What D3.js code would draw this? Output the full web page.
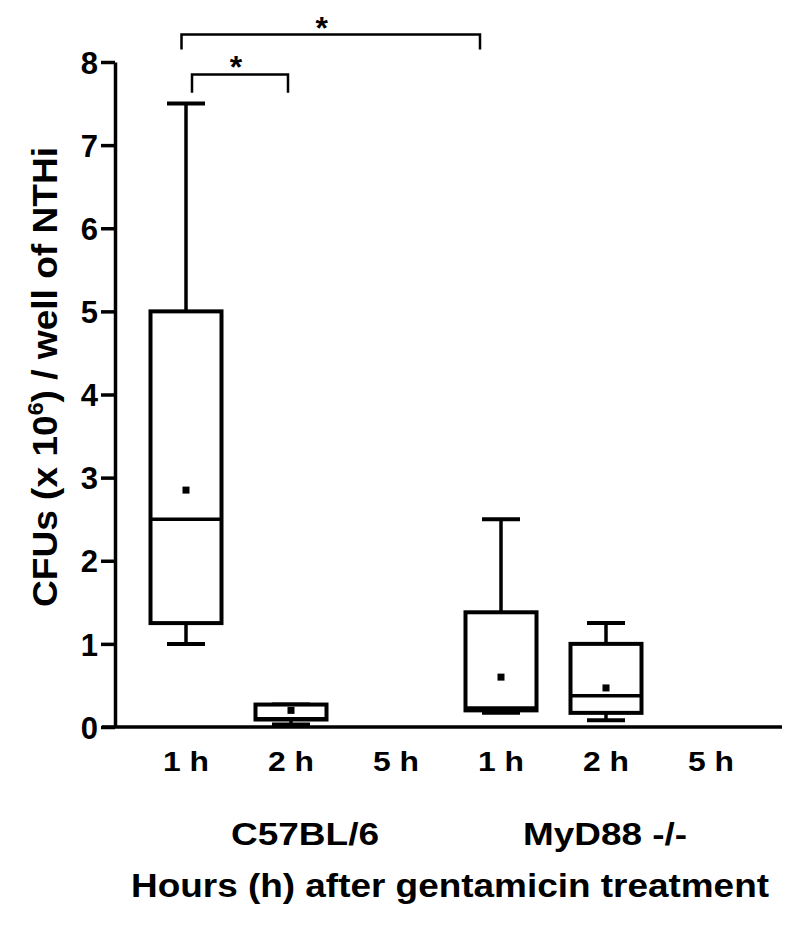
<!DOCTYPE html>
<html>
<head>
<meta charset="utf-8">
<script src="https://cdn.jsdelivr.net/npm/d3@7"></script>
<style>
  html, body { margin: 0; padding: 0; background: #fff; }
  svg { display: block; }
  text { font-family: "Liberation Sans", Arial, Helvetica, sans-serif; font-weight: bold; fill: #000; }
</style>
</head>
<body>
<svg id="chart" width="800" height="929"></svg>
<script>
// ---- data ----
const categories = ["C57-1h", "C57-2h", "C57-5h", "MyD-1h", "MyD-2h", "MyD-5h"];
const tickLabels = ["1 h", "2 h", "5 h", "1 h", "2 h", "5 h"];
const groupLabels = ["C57BL/6", "MyD88 -/-"];
const yTicks = [0, 1, 2, 3, 4, 5, 6, 7, 8];
// box-plot statistics (x 10^6 CFU); null = no data
const whiskerMin = [1.0, 0.03, null, 0.17, 0.08, null];
const quartile1  = [1.25, 0.09, null, 0.20, 0.17, null];
const medians    = [2.5, 0.10, null, 0.23, 0.375, null];
const quartile3  = [5.0, 0.27, null, 1.38, 1.0, null];
const whiskerMax = [7.5, 0.27, null, 2.5, 1.25, null];
const means      = [2.85, 0.20, null, 0.60, 0.47, null];
// significance brackets
const bracketFrom  = [0, 0];
const bracketTo    = [3, 1];
const bracketLevel = [8.33, 7.85];
const bracketFoot  = [8.15, 7.63];
const bracketMark  = ["*", "*"];

// ---- layout ----
const svg = d3.select("#chart");
const x = d3.scaleBand().domain(categories).range([133.5, 763.5]).padding(0);
const y = d3.scaleLinear().domain([0, 8]).range([727, 62]);
const cx = k => x(k) + x.bandwidth() / 2;
const boxW = 71, capW = 38;

// y axis
const yAxis = svg.append("g").attr("transform", "translate(115,0)")
  .call(d3.axisLeft(y).tickValues(yTicks).tickFormat(d3.format("d")).tickSize(14).tickSizeOuter(0).tickPadding(3));
yAxis.attr("font-size", null).attr("font-family", null);
yAxis.select(".domain").attr("stroke", "#000").attr("stroke-width", 3.5);
yAxis.selectAll(".tick line").attr("stroke", "#000").attr("stroke-width", 3.5);
yAxis.selectAll(".tick text").style("font-size", "31px").style("font-weight", "bold")
  .attr("fill", "#000").attr("dy", "0.36em");

// x axis baseline
svg.append("line").attr("x1", 102).attr("x2", 782).attr("y1", y(0)).attr("y2", y(0))
  .attr("stroke", "#000").attr("stroke-width", 3.5);

// category tick labels
svg.append("g").selectAll("text").data(categories).join("text")
  .attr("x", d => cx(d)).attr("y", 771)
  .attr("text-anchor", "middle").style("font-size", "28px")
  .attr("textLength", 46).attr("lengthAdjust", "spacingAndGlyphs")
  .text((d, i) => tickLabels[i]);

// group labels
const groupX = [231, 523], groupLen = [148, 164];
svg.append("g").selectAll("text").data(groupLabels).join("text")
  .attr("x", (d, i) => groupX[i]).attr("y", 845)
  .style("font-size", "32px")
  .attr("textLength", (d, i) => groupLen[i]).attr("lengthAdjust", "spacingAndGlyphs")
  .text(d => d);

// x title
svg.append("text").attr("x", 131).attr("y", 897).style("font-size", "33px")
  .attr("textLength", 638).attr("lengthAdjust", "spacingAndGlyphs")
  .text("Hours (h) after gentamicin treatment");

// y title
const yt = svg.append("text").attr("transform", "translate(57,377) rotate(-90)")
  .attr("text-anchor", "middle").style("font-size", "35px")
  .attr("textLength", 460).attr("lengthAdjust", "spacingAndGlyphs");
yt.append("tspan").text("CFUs (x 10");
yt.append("tspan").style("font-size", "22px").attr("dy", -14).text("6");
yt.append("tspan").attr("dy", 14).text(") / well of NTHi");

// boxes
const boxData = categories.map((c, i) => ({
  c, min: whiskerMin[i], q1: quartile1[i], med: medians[i], q3: quartile3[i], max: whiskerMax[i], mean: means[i]
})).filter(d => d.min !== null);

const g = svg.append("g").attr("stroke", "#000").attr("fill", "none");
boxData.forEach(d => {
  const c = cx(d.c);
  g.append("line").attr("x1", c).attr("x2", c).attr("y1", y(d.q3)).attr("y2", y(d.max)).attr("stroke-width", 3.5);
  g.append("line").attr("x1", c).attr("x2", c).attr("y1", y(d.q1)).attr("y2", y(d.min)).attr("stroke-width", 3.5);
  g.append("line").attr("x1", c - capW / 2).attr("x2", c + capW / 2).attr("y1", y(d.max)).attr("y2", y(d.max)).attr("stroke-width", 4);
  g.append("line").attr("x1", c - capW / 2).attr("x2", c + capW / 2).attr("y1", y(d.min)).attr("y2", y(d.min)).attr("stroke-width", 4);
  g.append("rect").attr("x", c - boxW / 2).attr("width", boxW)
    .attr("y", y(d.q3)).attr("height", y(d.q1) - y(d.q3))
    .attr("fill", "#fff").attr("stroke-width", 4);
  g.append("line").attr("x1", c - boxW / 2).attr("x2", c + boxW / 2).attr("y1", y(d.med)).attr("y2", y(d.med)).attr("stroke-width", 3.5);
  g.append("rect").attr("x", c - 3.5).attr("y", y(d.mean) - 3.5).attr("width", 7).attr("height", 7)
    .attr("fill", "#000").attr("stroke", "none");
});

// significance brackets
const fromOff = [-4.5, 6], toOff = [-21, -3], starOff = [-9, -4];
bracketFrom.forEach((f, i) => {
  const x1 = cx(categories[f]) + fromOff[i];
  const x2 = cx(categories[bracketTo[i]]) + toOff[i];
  svg.append("path")
    .attr("d", `M${x1},${y(bracketFoot[i])}V${y(bracketLevel[i])}H${x2}V${y(bracketFoot[i])}`)
    .attr("fill", "none").attr("stroke", "#000").attr("stroke-width", 2.5);
  svg.append("text").attr("x", (x1 + x2) / 2 + starOff[i]).attr("y", y(bracketLevel[i]) + 4)
    .attr("text-anchor", "middle").style("font-size", "32px").text(bracketMark[i]);
});
</script>
</body>
</html>
